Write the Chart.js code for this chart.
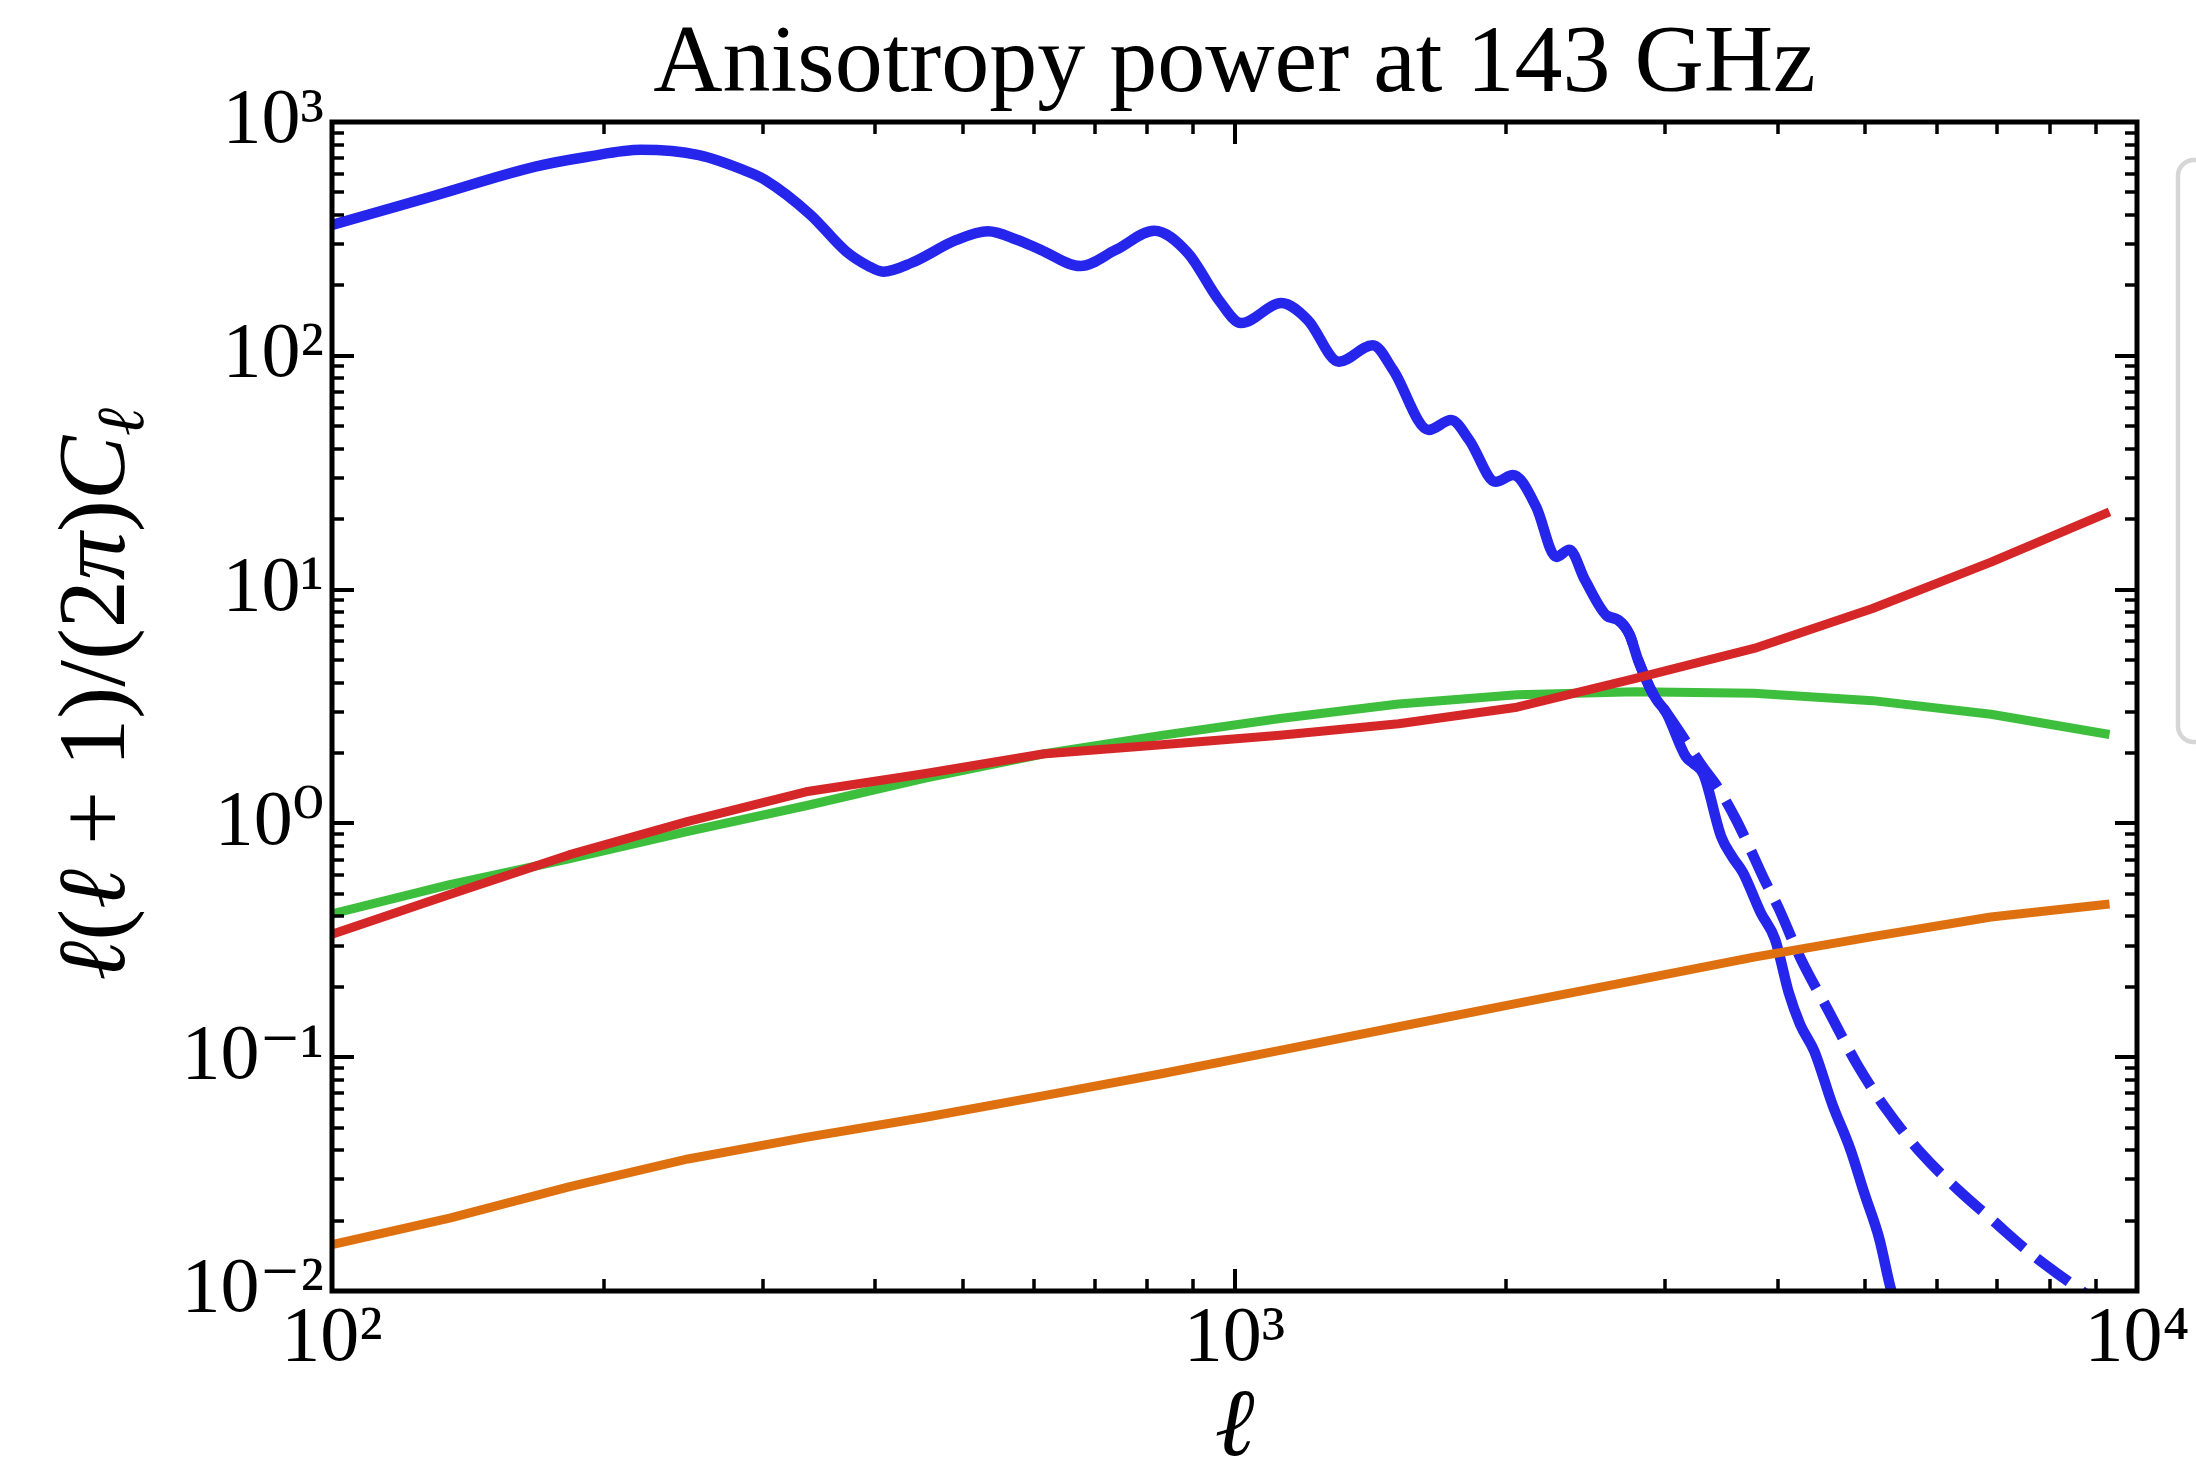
<!DOCTYPE html>
<html>
<head>
<meta charset="utf-8">
<title>Anisotropy power at 143 GHz</title>
<script src="https://cdn.jsdelivr.net/npm/chart.js@4.4.1/dist/chart.umd.min.js"></script>
<style>
  html, body { margin: 0; padding: 0; background: #ffffff; overflow: hidden; }
  canvas { display: block; }
</style>
</head>
<body>
<canvas id="chart" width="2196" height="1478"></canvas>
<script>
// Multipoles and band powers l(l+1)C_l/2pi at 143 GHz.

// Primary CMB spectrum (solid blue)
const cmbEll = [100, 129, 168, 192, 220, 255, 286, 302, 339, 371, 393, 408, 439, 492, 533, 575,
  610, 675, 739, 815, 888, 961, 1017, 1127, 1206, 1305, 1423, 1499, 1641, 1738, 1820,
  1947, 2036, 2159, 2272, 2350, 2445, 2588, 2663, 2741, 2800, 2886, 2940, 3006, 3163,
  3222, 3309, 3462, 3560, 3659, 3829, 3972, 4114, 4234, 4390, 4597, 4812, 4990, 5180,
  5348, 5600];
const cmbPower = [363, 480, 644, 710, 760, 721, 622, 565, 401, 280, 242, 229, 250, 313, 341, 313,
  284, 242, 284, 343, 275, 173, 138, 168, 142, 94.4, 111, 86.9, 48.2, 53.1, 43.6,
  28.9, 30.9, 22.6, 13.8, 14.8, 11.0, 7.7, 7.4, 6.4, 5.0, 3.8, 3.35, 3.0, 1.93,
  1.81, 1.62, 0.877, 0.72, 0.617, 0.415, 0.319, 0.188, 0.138, 0.106, 0.0628, 0.0404, 0.026, 0.0168,
  0.0099, 0.0065];

// Lensed CMB tail (dashed blue)
const lensEll = [2588, 2663, 2741, 2800, 2886, 2940, 3006, 3150, 3300, 3434, 3590, 3726, 3860,
  4008, 4234, 4551, 4898, 5273, 5771, 6328, 6925, 7588, 8307, 8776, 9300];
const lensPower = [7.7, 7.4, 6.4, 5.0, 3.8, 3.35, 3.0, 2.3, 1.75, 1.42, 1.05, 0.78, 0.58,
  0.434, 0.267, 0.158, 0.093, 0.060, 0.0387, 0.0272, 0.020, 0.0147, 0.0113, 0.0097, 0.0082];

// Foreground components, sampled on a common multipole grid
const fgEll = [100, 135, 183, 248, 335, 453, 613, 830, 1123, 1520, 2056, 2782, 3764, 5093, 6890, 9323];
const redPower = [0.336, 0.497, 0.733, 1.02, 1.365, 1.63, 1.98, 2.17, 2.38, 2.67, 3.14, 4.17, 5.6, 8.3, 13.1, 21.5];
const greenPower = [0.41, 0.547, 0.705, 0.925, 1.19, 1.56, 1.98, 2.38, 2.81, 3.24, 3.55, 3.66, 3.6, 3.35, 2.93, 2.4];
const orangePower = [0.0158, 0.0205, 0.0279, 0.0367, 0.0454, 0.0552, 0.0683, 0.085, 0.107, 0.135, 0.17, 0.213, 0.268, 0.328, 0.398, 0.452];

// Axis decades
const xMajor = [100, 1000, 10000];
const yMajor = [0.01, 0.1, 1, 10, 100, 1000];

const SERIF = "'Liberation Serif', 'DejaVu Serif', serif";
const SUP = { '-': '\u207B', '0': '\u2070', '1': '\u00B9', '2': '\u00B2', '3': '\u00B3', '4': '\u2074' };
function powerLabel(v) {
  const e = Math.round(Math.log10(v));
  return '10' + String(e).split('').map(c => SUP[c]).join('');
}
function pairs(xs, ys) { return xs.map((x, i) => ({ x: x, y: ys[i] })); }
function minorValues(majors) {
  const out = [];
  for (let i = 0; i < majors.length - 1; i++) {
    for (let m = 2; m <= 9; m++) out.push(m * majors[i]);
  }
  return out;
}

// Frame, inward ticks, title, rotated y label and legend box
const axisDecor = {
  id: 'axisDecor',
  afterDatasetsDraw(chart) {
    const { ctx, chartArea: a, scales } = chart;
    const sx = scales.x, sy = scales.y;
    ctx.save();
    ctx.strokeStyle = '#000000';
    ctx.lineCap = 'butt';
    const majorLen = 22, minorLen = 12;
    function xTicks(vals, len, w) {
      ctx.lineWidth = w;
      vals.forEach(v => {
        const px = Math.round(sx.getPixelForValue(v));
        ctx.beginPath(); ctx.moveTo(px, a.bottom); ctx.lineTo(px, a.bottom - len); ctx.stroke();
        ctx.beginPath(); ctx.moveTo(px, a.top); ctx.lineTo(px, a.top + len); ctx.stroke();
      });
    }
    function yTicks(vals, len, w) {
      ctx.lineWidth = w;
      vals.forEach(v => {
        const py = Math.round(sy.getPixelForValue(v));
        ctx.beginPath(); ctx.moveTo(a.left, py); ctx.lineTo(a.left + len, py); ctx.stroke();
        ctx.beginPath(); ctx.moveTo(a.right, py); ctx.lineTo(a.right - len, py); ctx.stroke();
      });
    }
    xTicks(minorValues(xMajor), minorLen, 3.5);
    xTicks(xMajor, majorLen, 4);
    yTicks(minorValues(yMajor), minorLen, 3.5);
    yTicks(yMajor, majorLen, 4);
    ctx.lineWidth = 5;
    ctx.strokeRect(a.left, a.top, a.right - a.left, a.bottom - a.top);
    ctx.restore();
  },
  afterDraw(chart) {
    const { ctx, chartArea: a } = chart;
    ctx.save();
    ctx.fillStyle = '#000000';

    // title
    ctx.font = '96px ' + SERIF;
    ctx.textAlign = 'center';
    ctx.textBaseline = 'alphabetic';
    ctx.fillText('Anisotropy power at 143 GHz', (a.left + a.right) / 2, a.top - 31);

    // y axis label: l(l+1)/(2pi) C_l
    const fs = 96;
    const segs = [
      { t: '\u2113', it: true }, { t: '(', it: false }, { t: '\u2113', it: true },
      { t: ' + 1)/(2', it: false }, { t: '\u03C0', it: true }, { t: ')', it: false },
      { t: 'C', it: true }, { t: '\u2113', it: true, sub: true }
    ];
    const fontOf = s => (s.it ? 'italic ' : '') + (s.sub ? Math.round(fs * 0.7) : fs) + 'px ' + SERIF;
    let total = 0;
    segs.forEach(s => { ctx.font = fontOf(s); s.w = ctx.measureText(s.t).width; total += s.w; });
    ctx.translate(a.left - 208, (a.top + a.bottom) / 2 - 12);
    ctx.rotate(-Math.PI / 2);
    ctx.textAlign = 'left';
    let pos = -total / 2;
    segs.forEach(s => {
      ctx.font = fontOf(s);
      ctx.fillText(s.t, pos, s.sub ? fs * 0.2 : 0);
      pos += s.w;
    });
    ctx.setTransform(1, 0, 0, 1, 0, 0);

    // legend frame
    ctx.strokeStyle = '#d6d6d6';
    ctx.lineWidth = 4.5;
    ctx.beginPath();
    ctx.roundRect(a.right + 41, a.top + 38, 240, 582, 16);
    ctx.stroke();
    ctx.restore();
  }
};

const common = { pointRadius: 0, pointHoverRadius: 0, fill: false, clip: 0, borderJoinStyle: 'round' };

new Chart(document.getElementById('chart'), {
  type: 'line',
  data: {
    datasets: [
      Object.assign({ label: 'Radio point sources', data: pairs(fgEll, orangePower),
        borderColor: '#df700f', borderWidth: 9, tension: 0 }, common),
      Object.assign({ label: 'Infrared point sources', data: pairs(fgEll, redPower),
        borderColor: '#d62728', borderWidth: 9, tension: 0 }, common),
      Object.assign({ label: 'Lensed CMB', data: pairs(lensEll, lensPower),
        borderColor: '#2525ec', borderWidth: 10.5, borderDash: [40, 16], borderCapStyle: 'butt',
        cubicInterpolationMode: 'monotone' }, common),
      Object.assign({ label: 'CMB', data: pairs(cmbEll, cmbPower),
        borderColor: '#2525ec', borderWidth: 10.5, cubicInterpolationMode: 'monotone' }, common),
      Object.assign({ label: 'SZ', data: pairs(fgEll, greenPower),
        borderColor: '#3dbf3d', borderWidth: 9, tension: 0 }, common)
    ]
  },
  options: {
    responsive: false,
    animation: false,
    devicePixelRatio: 1,
    events: [],
    layout: { autoPadding: false, padding: { top: 122, right: 59, bottom: 0, left: 0 } },
    plugins: { legend: { display: false }, tooltip: { enabled: false }, title: { display: false } },
    scales: {
      x: {
        type: 'logarithmic',
        min: 100, max: 10000,
        grid: { display: false, drawTicks: false },
        border: { display: false },
        afterBuildTicks: s => { s.ticks = xMajor.map(v => ({ value: v })); },
        afterFit: s => { s.height = 187; s.paddingLeft = 0; s.paddingRight = 0; },
        ticks: {
          autoSkip: false, maxRotation: 0, minRotation: 0, padding: 2,
          color: '#000000', font: { family: SERIF, size: 78 },
          callback: v => powerLabel(v)
        },
        title: {
          display: true, text: '\u2113', color: '#000000',
          font: { family: SERIF, size: 96, style: 'italic', lineHeight: 1.0 }, padding: { top: 0, bottom: 0 }
        }
      },
      y: {
        type: 'logarithmic',
        min: 0.01, max: 1000,
        grid: { display: false, drawTicks: false },
        border: { display: false },
        afterBuildTicks: s => { s.ticks = yMajor.map(v => ({ value: v })); },
        afterFit: s => { s.width = 332; s.paddingTop = 0; s.paddingBottom = 0; },
        ticks: {
          autoSkip: false, padding: 8,
          color: '#000000', font: { family: SERIF, size: 78 },
          callback: v => powerLabel(v)
        }
      }
    }
  },
  plugins: [axisDecor]
});
</script>
</body>
</html>
